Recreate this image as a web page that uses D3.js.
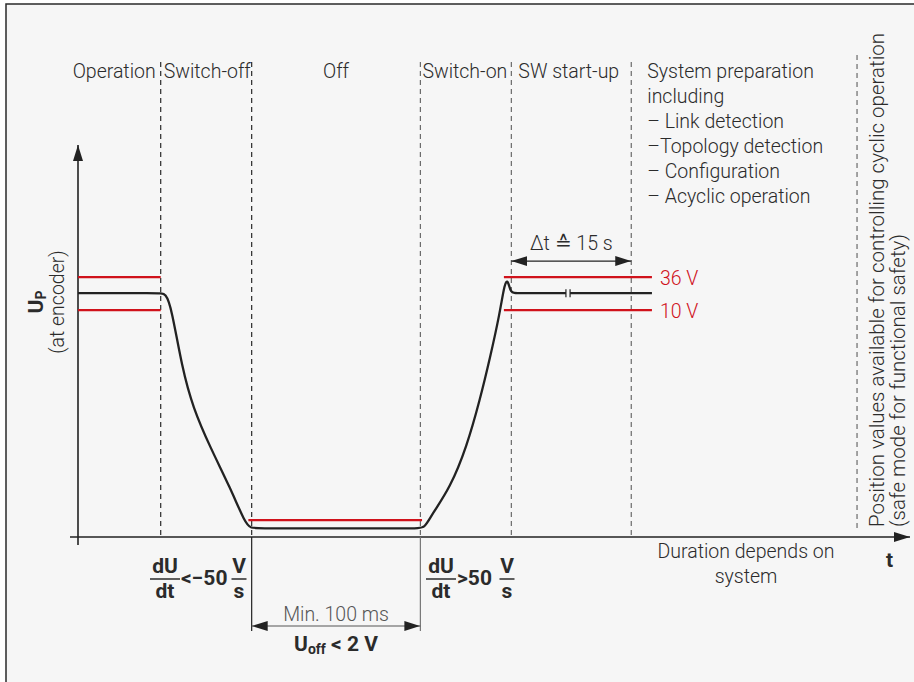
<!DOCTYPE html>
<html lang="en">
<head>
<meta charset="utf-8">
<title>Supply voltage sequence</title>
<script src="https://cdnjs.cloudflare.com/ajax/libs/d3/7.8.5/d3.min.js"></script>
<style>
  html, body { margin: 0; padding: 0; background: #fff; }
  text { font-family: Roboto, "Liberation Sans", sans-serif; fill: #2b2b2b; }
  .lt { font-weight: 300; font-size: 19.5px; }
  .bd { font-weight: 700; font-size: 21px; }
</style>
</head>
<body>
<svg id="chart" width="914" height="682"></svg>
<script>
// time in arbitrary units (0..100), voltage in arbitrary units (0..100)
var phaseBounds = [10, 21, 41.4, 52.4, 66.9, 94.2];
var phaseLabels = ["Operation", "Switch-off", "Off", "Switch-on", "SW start-up"];
var prepLines = ["System preparation", "including", "\u2013 Link detection",
                 "\u2013Topology detection", "\u2013 Configuration", "\u2013 Acyclic operation"];

var level36 = 66.3, levelNom = 62.2, level10 = 57.9, levelOff = 4.3, levelDt = 70.4;

// control points of the supply voltage curve (B-spline)
var curveT = [0, 9.8, 10.6, 11.3, 12.6, 13.9, 16.0, 18.4, 20.2, 20.9, 22.0,
              41.0, 41.9, 42.8, 45.0, 47.0, 48.6, 49.8, 51.0, 51.6, 52.0, 52.3, 53.0, 59.0];
var curveU = [62.2, 62.2, 62.2, 58.5, 43.0, 33.0, 22.8, 12.6, 3.6, 2.2, 2.2,
              2.2, 2.2, 5.8, 12.6, 23.0, 35.0, 45.5, 57.0, 65.0, 65.6, 62.2, 62.2, 62.2];
var tailT = [59.5, 69.4];

var svg = d3.select("#chart");
var x = d3.scaleLinear().domain([0, 100]).range([78, 905]);
var y = d3.scaleLinear().domain([0, 100]).range([537, 145]);

// frame
svg.append("rect").attr("x", 6).attr("y", 4).attr("width", 930).attr("height", 700)
   .attr("fill", "#f6f6f6").attr("stroke", "#2a2a2a").attr("stroke-width", 1.5);

var defs = svg.append("defs");
defs.append("marker").attr("id", "arr").attr("viewBox", "0 0 16 10")
  .attr("refX", 16).attr("refY", 5).attr("markerWidth", 16).attr("markerHeight", 10)
  .attr("markerUnits", "userSpaceOnUse").attr("orient", "auto-start-reverse")
  .append("path").attr("d", "M0,0L16,5L0,10Z").attr("fill", "#222");

// phase boundaries
phaseBounds.forEach(function(t, i) {
  var top = i == 5 ? 55 : 62, bot = i == 5 ? y(2.3) : y(0);
  svg.append("line").attr("x1", x(t)).attr("x2", x(t)).attr("y1", top).attr("y2", bot)
    .attr("stroke", i < 2 ? "#2a2a2a" : "#6a6a6a").attr("stroke-width", 1.2)
    .attr("stroke-dasharray", "5,4");
});

// phase labels
var labelX = [x(phaseBounds[0]) - 5, x(phaseBounds[0]) + 3,
              (x(phaseBounds[1]) + x(phaseBounds[2])) / 2, x(phaseBounds[2]) + 2,
              x(phaseBounds[3]) + 7];
var anchors = ["end", "start", "middle", "start", "start"];
phaseLabels.forEach(function(l, i) {
  svg.append("text").attr("class", "lt").attr("x", labelX[i]).attr("y", 78)
    .attr("text-anchor", anchors[i]).text(l);
});
prepLines.forEach(function(l, i) {
  svg.append("text").attr("class", "lt").attr("x", x(phaseBounds[4]) + 16)
    .attr("y", 78 + i * 25).text(l);
});

// rotated label at the right
var rot = svg.append("g").attr("transform", "translate(884,527) rotate(-90)");
rot.append("text").attr("class", "lt").style("font-size", "20.5px")
   .text("Position values available for controlling cyclic operation");
rot.append("text").attr("class", "lt").style("font-size", "20.5px").attr("y", 21)
   .text("(safe mode for functional safety)");

// axes
svg.append("line").attr("x1", x(0)).attr("x2", x(0)).attr("y1", 545).attr("y2", y(100))
   .attr("stroke", "#222").attr("stroke-width", 1.6).attr("marker-end", "url(#arr)");
svg.append("line").attr("x1", 70).attr("x2", 910).attr("y1", y(0)).attr("y2", y(0))
   .attr("stroke", "#222").attr("stroke-width", 1.6).attr("marker-end", "url(#arr)");

// red limit lines
function hline(t0, t1, u, color, w) {
  svg.append("line").attr("x1", x(t0)).attr("x2", x(t1)).attr("y1", y(u)).attr("y2", y(u))
     .attr("stroke", color).attr("stroke-width", w);
}
hline(0, phaseBounds[0], level36, "#d0121b", 2.2);
hline(0, phaseBounds[0], level10, "#d0121b", 2.2);
hline(51.5, 69.4, level36, "#d0121b", 2.2);
hline(51.5, 69.4, level10, "#d0121b", 2.2);
hline(20.6, 41.6, levelOff, "#d0121b", 2.2);

// supply voltage curve
var pts = curveT.map(function(t, i) { return [t, curveU[i]]; });
var line = d3.line().x(function(d) { return x(d[0]); }).y(function(d) { return y(d[1]); })
  .curve(d3.curveBasis);
svg.append("path").attr("d", line(pts)).attr("fill", "none")
   .attr("stroke", "#222").attr("stroke-width", 2.3).attr("stroke-linejoin", "round");
hline(tailT[0], tailT[1], levelNom, "#222", 2.2);
// break ticks
[59.0, 59.5].forEach(function(t) {
  svg.append("line").attr("x1", x(t)).attr("x2", x(t)).attr("y1", y(levelNom) - 4)
     .attr("y2", y(levelNom) + 4).attr("stroke", "#222").attr("stroke-width", 1.2);
});

svg.append("text").attr("class", "lt").attr("x", x(69.4) + 8).attr("y", y(level36) + 8)
   .style("fill", "#d0121b").text("36 V");
svg.append("text").attr("class", "lt").attr("x", x(69.4) + 8).attr("y", y(level10) + 8)
   .style("fill", "#d0121b").text("10 V");

// delta t arrow
svg.append("line").attr("x1", x(phaseBounds[3])).attr("x2", x(phaseBounds[4]))
   .attr("y1", y(levelDt)).attr("y2", y(levelDt)).attr("stroke", "#222").attr("stroke-width", 1.2)
   .attr("marker-start", "url(#arr)").attr("marker-end", "url(#arr)");
var dt = svg.append("text").attr("class", "lt").attr("text-anchor", "middle")
   .attr("x", (x(phaseBounds[3]) + x(phaseBounds[4])) / 2).attr("y", y(levelDt) - 11);
dt.append("tspan").text("\u0394t ");
dt.append("tspan").style("font-family", "'DejaVu Sans'").style("font-weight", 200).text("\u2259");
dt.append("tspan").text(" 15 s");

// y label
var yl = svg.append("g").attr("transform", "translate(43,302) rotate(-90)");
var up = yl.append("text").attr("class", "bd").attr("text-anchor", "middle");
up.append("tspan").text("U");
up.append("tspan").attr("font-size", 14).attr("dy", 3).text("P");
yl.append("text").attr("class", "lt").attr("text-anchor", "middle").attr("y", 21).text("(at encoder)");

// Min. 100 ms dimension
[[phaseBounds[1], "#222"], [phaseBounds[2], "#777"]].forEach(function(d) {
  svg.append("line").attr("x1", x(d[0])).attr("x2", x(d[0])).attr("y1", y(0)).attr("y2", 631)
     .attr("stroke", d[1]).attr("stroke-width", 1.2);
});
svg.append("line").attr("x1", x(phaseBounds[1])).attr("x2", x(phaseBounds[2]))
   .attr("y1", 626).attr("y2", 626).attr("stroke", "#555").attr("stroke-width", 1.2)
   .attr("marker-start", "url(#arr)").attr("marker-end", "url(#arr)");
var midOff = (x(phaseBounds[1]) + x(phaseBounds[2])) / 2;
svg.append("text").attr("class", "lt").attr("text-anchor", "middle").attr("x", midOff).attr("y", 621)
   .style("fill", "#555").text("Min. 100 ms");
var uoff = svg.append("text").attr("class", "bd").attr("text-anchor", "middle")
   .attr("x", midOff).attr("y", 651);
uoff.append("tspan").text("U");
uoff.append("tspan").attr("font-size", 14).attr("dy", 3).text("off");
uoff.append("tspan").attr("dy", -3).text(" < 2 V");

// slope formulas
function fraction(cx, num, den, w) {
  svg.append("text").attr("class", "bd").attr("text-anchor", "middle").attr("x", cx).attr("y", 573).text(num);
  svg.append("text").attr("class", "bd").attr("text-anchor", "middle").attr("x", cx).attr("y", 598).text(den);
  svg.append("line").attr("x1", cx - w / 2).attr("x2", cx + w / 2).attr("y1", 579).attr("y2", 579)
     .attr("stroke", "#2b2b2b").attr("stroke-width", 1.5);
}
fraction(165, "dU", "dt", 30);
svg.append("text").attr("class", "bd").attr("x", 181).attr("y", 585).text("<\u221250");
fraction(239, "V", "s", 15);
fraction(441, "dU", "dt", 30);
svg.append("text").attr("class", "bd").attr("x", 457).attr("y", 585).text(">50");
fraction(507, "V", "s", 15);

// duration note and t
svg.append("text").attr("class", "lt").attr("text-anchor", "middle").attr("x", 746).attr("y", 558)
   .text("Duration depends on");
svg.append("text").attr("class", "lt").attr("text-anchor", "middle").attr("x", 746).attr("y", 583)
   .text("system");
svg.append("text").attr("class", "bd").attr("font-size", 22).attr("x", 886).attr("y", 567).text("t");
</script>
</body>
</html>
